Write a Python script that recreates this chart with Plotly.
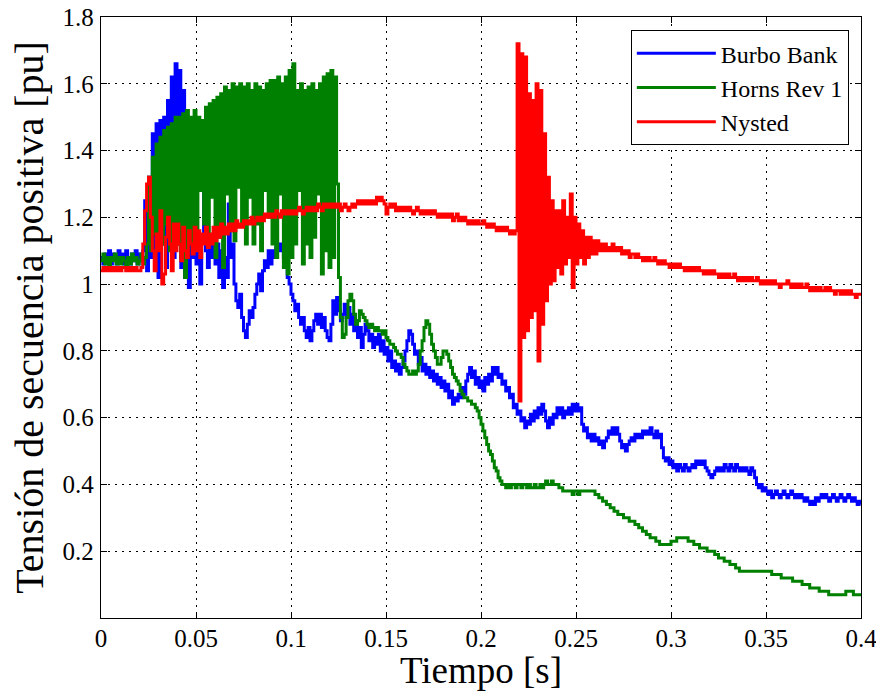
import numpy as np
import plotly.graph_objects as go

# sample times [s], 1 ms resolution
t = np.round(np.arange(0, 0.4005, 0.001), 3)

burbo_bank = [
    1.08, 1.06, 1.09, 1.07, 1.10, 1.06, 1.09, 1.08, 1.06, 1.10,
    1.07, 1.09, 1.06, 1.10, 1.08, 1.06, 1.09, 1.07, 1.10, 1.06,
    1.09, 1.07, 1.10, 1.25, 1.04, 1.32, 1.08, 1.45, 1.10, 1.48,
    1.02, 1.49, 1.12, 1.50, 1.05, 1.55, 1.15, 1.62, 1.08, 1.66,
    1.12, 1.64, 1.05, 1.58, 1.02, 1.35, 0.99, 1.16, 1.08, 1.13,
    1.06, 1.12, 1.00, 1.14, 1.28, 1.10, 1.05, 1.12, 1.08, 1.15,
    1.06, 1.12, 1.02, 1.10, 0.99, 1.08, 1.02, 1.24, 1.08, 1.12,
    1.00, 0.95, 0.93, 0.97, 0.90, 0.86, 0.84, 0.88, 0.92, 0.90,
    0.93, 0.97, 1.00, 1.03, 0.98, 1.04, 1.07, 1.05, 1.10, 1.06,
    1.10, 1.08, 1.11, 1.12, 1.10, 1.12, 1.08, 1.05, 1.02, 1.00,
    0.97, 0.95, 0.92, 0.94, 0.90, 0.88, 0.90, 0.86, 0.84, 0.87,
    0.83, 0.86, 0.89, 0.91, 0.88, 0.91, 0.87, 0.90, 0.86, 0.84,
    0.83, 0.88, 0.95, 0.91, 0.96, 0.92, 0.89, 0.91, 0.94, 0.90,
    0.93, 0.88, 0.91, 0.86, 0.89, 0.84, 0.87, 0.81, 0.85, 0.88,
    0.86, 0.83, 0.85, 0.81, 0.84, 0.82, 0.85, 0.80, 0.83, 0.79,
    0.81, 0.77, 0.80, 0.75, 0.77, 0.74, 0.76, 0.73, 0.75, 0.77,
    0.80, 0.83, 0.86, 0.85, 0.82, 0.79, 0.80, 0.76, 0.78, 0.74,
    0.76, 0.73, 0.75, 0.72, 0.74, 0.71, 0.73, 0.70, 0.72, 0.69,
    0.71, 0.68, 0.70, 0.66, 0.68, 0.64, 0.66, 0.65, 0.67, 0.66,
    0.69, 0.67, 0.71, 0.73, 0.75, 0.72, 0.74, 0.70, 0.72, 0.69,
    0.71, 0.68, 0.72, 0.70, 0.73, 0.71, 0.75, 0.73, 0.75, 0.72,
    0.73, 0.70, 0.71, 0.68, 0.69, 0.66, 0.67, 0.63, 0.64, 0.61,
    0.62, 0.59, 0.60, 0.57, 0.59, 0.58, 0.61, 0.59, 0.62, 0.60,
    0.63, 0.61, 0.64, 0.62, 0.59, 0.57, 0.60, 0.58, 0.61, 0.60,
    0.63, 0.61, 0.63, 0.60, 0.62, 0.61, 0.63, 0.61, 0.64, 0.62,
    0.64, 0.62, 0.63, 0.58, 0.56, 0.57, 0.54, 0.55, 0.53, 0.55,
    0.53, 0.54, 0.52, 0.53, 0.51, 0.53, 0.54, 0.56, 0.55, 0.57,
    0.55, 0.57, 0.55, 0.53, 0.51, 0.52, 0.50, 0.52, 0.53, 0.54,
    0.53, 0.55, 0.54, 0.55, 0.54, 0.56, 0.55, 0.56, 0.55, 0.57,
    0.55, 0.54, 0.56, 0.54, 0.55, 0.51, 0.48, 0.47, 0.48, 0.46,
    0.47, 0.45, 0.46, 0.44, 0.46, 0.45, 0.44, 0.46, 0.45, 0.44,
    0.45, 0.46, 0.45, 0.47, 0.46, 0.47, 0.46, 0.47, 0.45, 0.44,
    0.43, 0.42, 0.43, 0.44, 0.45, 0.44, 0.45, 0.44, 0.46, 0.45,
    0.44, 0.46, 0.45, 0.44, 0.46, 0.45, 0.44, 0.45, 0.44, 0.45,
    0.44, 0.43, 0.45, 0.44, 0.42, 0.40, 0.39, 0.40, 0.38, 0.39,
    0.38, 0.37, 0.38, 0.36, 0.37, 0.38, 0.37, 0.36, 0.37, 0.38,
    0.37, 0.36, 0.37, 0.38, 0.37, 0.36, 0.37, 0.36, 0.37, 0.36,
    0.35, 0.36, 0.35, 0.34, 0.35, 0.34, 0.36, 0.35, 0.36, 0.37,
    0.36, 0.37, 0.36, 0.35, 0.36, 0.37, 0.36, 0.35, 0.36, 0.37,
    0.36, 0.35, 0.36, 0.37, 0.36, 0.35, 0.36, 0.35, 0.34, 0.35,
    0.34,
]

horns_rev_1 = [
    1.07, 1.09, 1.06, 1.08, 1.05, 1.08, 1.07, 1.09, 1.06, 1.08,
    1.06, 1.08, 1.07, 1.05, 1.08, 1.06, 1.09, 1.07, 1.08, 1.06,
    1.07, 1.09, 1.06, 1.08, 1.12, 1.32, 1.10, 1.38, 1.15, 1.42,
    1.15, 1.44, 1.12, 1.46, 1.18, 1.47, 1.10, 1.48, 1.16, 1.50,
    1.12, 1.50, 1.08, 1.51, 1.02, 1.52, 1.14, 1.50, 1.10, 1.52,
    1.15, 1.50, 1.28, 1.49, 1.18, 1.53, 1.12, 1.54, 1.26, 1.55,
    1.08, 1.56, 1.14, 1.57, 1.05, 1.59, 1.27, 1.58, 1.16, 1.60,
    1.13, 1.59, 1.29, 1.60, 1.18, 1.59, 1.12, 1.60, 1.26, 1.58,
    1.12, 1.60, 1.18, 1.59, 1.10, 1.58, 1.28, 1.60, 1.20, 1.61,
    1.12, 1.61, 1.08, 1.62, 1.27, 1.60, 1.05, 1.62, 1.03, 1.64,
    1.08, 1.66, 1.12, 1.58, 1.28, 1.60, 1.06, 1.58, 1.12, 1.59,
    1.08, 1.60, 1.14, 1.58, 1.27, 1.60, 1.03, 1.62, 1.10, 1.63,
    1.05, 1.64, 1.08, 1.62, 1.30, 1.02, 0.90, 0.84, 0.85, 0.90,
    0.95, 0.97, 0.95, 0.91, 0.88, 0.89, 0.92, 0.91, 0.90, 0.89,
    0.88, 0.87, 0.88, 0.87, 0.86, 0.87, 0.86, 0.86, 0.85, 0.86,
    0.84, 0.83, 0.82, 0.82, 0.81, 0.80, 0.79, 0.79, 0.78, 0.76,
    0.75, 0.74, 0.73, 0.73, 0.74, 0.73, 0.74, 0.76, 0.80, 0.83,
    0.87, 0.89, 0.88, 0.85, 0.82, 0.80, 0.78, 0.76, 0.76, 0.78,
    0.80, 0.80, 0.79, 0.77, 0.75, 0.73, 0.72, 0.71, 0.70, 0.68,
    0.67, 0.66, 0.66, 0.65, 0.65, 0.64, 0.64, 0.63, 0.62, 0.60,
    0.58, 0.56, 0.54, 0.52, 0.50, 0.49, 0.47, 0.45, 0.44, 0.42,
    0.41, 0.40, 0.40, 0.39, 0.40, 0.39, 0.40, 0.40, 0.39, 0.40,
    0.40, 0.39, 0.40, 0.40, 0.39, 0.40, 0.39, 0.39, 0.40, 0.39,
    0.39, 0.40, 0.39, 0.40, 0.41, 0.40, 0.40, 0.41, 0.40, 0.40,
    0.40, 0.39, 0.39, 0.38, 0.38, 0.38, 0.38, 0.38, 0.37, 0.38,
    0.38, 0.37, 0.38, 0.38, 0.38, 0.38, 0.38, 0.38, 0.38, 0.38,
    0.37, 0.37, 0.36, 0.36, 0.35, 0.35, 0.34, 0.34, 0.33, 0.33,
    0.32, 0.32, 0.31, 0.31, 0.31, 0.30, 0.30, 0.30, 0.29, 0.29,
    0.29, 0.28, 0.28, 0.27, 0.27, 0.26, 0.26, 0.25, 0.25, 0.24,
    0.24, 0.24, 0.23, 0.23, 0.22, 0.22, 0.22, 0.22, 0.22, 0.22,
    0.23, 0.23, 0.23, 0.24, 0.24, 0.24, 0.24, 0.24, 0.24, 0.23,
    0.23, 0.23, 0.22, 0.22, 0.22, 0.21, 0.21, 0.21, 0.21, 0.20,
    0.20, 0.20, 0.20, 0.19, 0.19, 0.18, 0.18, 0.18, 0.17, 0.17,
    0.17, 0.16, 0.16, 0.16, 0.15, 0.15, 0.14, 0.14, 0.14, 0.14,
    0.14, 0.14, 0.14, 0.14, 0.14, 0.14, 0.14, 0.14, 0.14, 0.14,
    0.14, 0.14, 0.14, 0.13, 0.13, 0.13, 0.13, 0.13, 0.12, 0.12,
    0.12, 0.12, 0.12, 0.12, 0.11, 0.11, 0.11, 0.11, 0.11, 0.10,
    0.10, 0.10, 0.10, 0.09, 0.09, 0.09, 0.09, 0.09, 0.08, 0.08,
    0.08, 0.08, 0.08, 0.07, 0.07, 0.07, 0.07, 0.07, 0.07, 0.07,
    0.07, 0.07, 0.08, 0.08, 0.08, 0.08, 0.07, 0.07, 0.07, 0.07,
    0.07,
]

nysted = [
    1.04, 1.05, 1.04, 1.05, 1.04, 1.05, 1.04, 1.05, 1.04, 1.05,
    1.04, 1.05, 1.05, 1.04, 1.05, 1.04, 1.05, 1.04, 1.05, 1.04,
    1.04, 1.05, 1.12, 1.22, 1.30, 1.32, 1.20, 1.10, 1.04, 1.15,
    1.10, 1.22, 1.00, 1.03, 1.14, 1.20, 1.12, 1.04, 1.18, 1.10,
    1.18, 1.12, 1.07, 1.17, 1.10, 1.08, 1.16, 1.12, 1.09, 1.17,
    1.10, 1.16, 1.08, 1.15, 1.12, 1.17, 1.11, 1.15, 1.12, 1.17,
    1.13, 1.17, 1.14, 1.18, 1.15, 1.17, 1.15, 1.18, 1.16, 1.18,
    1.16, 1.19, 1.17, 1.18, 1.17, 1.19, 1.18, 1.19, 1.18, 1.20,
    1.18, 1.19, 1.20, 1.19, 1.20, 1.19, 1.21, 1.20, 1.21, 1.20,
    1.21, 1.20, 1.22, 1.21, 1.20, 1.22, 1.21, 1.22, 1.21, 1.22,
    1.21, 1.22, 1.21, 1.22, 1.23, 1.22, 1.21, 1.22, 1.23, 1.22,
    1.23, 1.22, 1.23, 1.22, 1.24, 1.23, 1.22, 1.24, 1.23, 1.24,
    1.23, 1.24, 1.23, 1.24, 1.23, 1.24, 1.22, 1.23, 1.24, 1.23,
    1.22, 1.23, 1.24, 1.23, 1.24, 1.25, 1.24, 1.25, 1.24, 1.25,
    1.24, 1.25, 1.24, 1.25, 1.24, 1.26, 1.25, 1.26, 1.25, 1.24,
    1.21, 1.23, 1.24, 1.23, 1.24, 1.22, 1.23, 1.22, 1.23, 1.22,
    1.23, 1.22, 1.23, 1.22, 1.21, 1.22, 1.23, 1.22, 1.21, 1.22,
    1.21, 1.22, 1.21, 1.22, 1.21, 1.22, 1.21, 1.20, 1.21, 1.20,
    1.21, 1.20, 1.21, 1.20, 1.21, 1.19, 1.20, 1.21, 1.19, 1.20,
    1.19, 1.20, 1.19, 1.18, 1.19, 1.18, 1.19, 1.18, 1.19, 1.18,
    1.18, 1.19, 1.18, 1.17, 1.18, 1.17, 1.18, 1.17, 1.16, 1.17,
    1.16, 1.17, 1.16, 1.17, 1.16, 1.15, 1.16, 1.15, 1.16, 1.72,
    0.65, 1.69, 0.84, 1.68, 0.86, 1.57, 0.90, 1.55, 0.92, 1.60,
    0.77, 1.58, 0.88, 1.45, 0.95, 1.32, 1.00, 1.25, 1.01, 1.22,
    1.05, 1.22, 1.03, 1.25, 1.06, 1.20, 1.08, 1.27, 0.99, 1.20,
    1.06, 1.18, 1.08, 1.16, 1.06, 1.14, 1.08, 1.14, 1.09, 1.13,
    1.09, 1.13, 1.10, 1.12, 1.10, 1.12, 1.10, 1.11, 1.10, 1.12,
    1.10, 1.11, 1.10, 1.11, 1.09, 1.10, 1.09, 1.10, 1.08, 1.09,
    1.09, 1.08, 1.09, 1.08, 1.08, 1.07, 1.08, 1.07, 1.08, 1.07,
    1.07, 1.08, 1.07, 1.06, 1.07, 1.06, 1.07, 1.06, 1.06, 1.05,
    1.06, 1.05, 1.06, 1.05, 1.06, 1.05, 1.05, 1.04, 1.05, 1.04,
    1.05, 1.04, 1.05, 1.04, 1.05, 1.04, 1.04, 1.03, 1.04, 1.03,
    1.04, 1.03, 1.04, 1.03, 1.03, 1.02, 1.03, 1.02, 1.03, 1.02,
    1.03, 1.02, 1.02, 1.03, 1.02, 1.01, 1.02, 1.01, 1.02, 1.01,
    1.02, 1.01, 1.02, 1.01, 1.01, 1.02, 1.01, 1.00, 1.01, 1.00,
    1.01, 1.00, 1.01, 1.00, 1.01, 1.00, 1.00, 0.99, 1.00, 1.00,
    1.00, 1.01, 1.00, 0.99, 1.00, 0.99, 1.00, 0.99, 1.00, 0.99,
    0.99, 1.00, 0.99, 0.98, 0.99, 0.98, 0.99, 0.98, 0.99, 0.98,
    0.98, 0.99, 0.98, 0.99, 0.98, 0.98, 0.97, 0.98, 0.98, 0.97,
    0.98, 0.97, 0.98, 0.97, 0.98, 0.97, 0.97, 0.96, 0.97, 0.97,
    0.97,
]

x_ticks = [0, 0.05, 0.1, 0.15, 0.2, 0.25, 0.3, 0.35, 0.4]
x_tick_text = ["0", "0.05", "0.1", "0.15", "0.2", "0.25", "0.3", "0.35", "0.4"]
y_ticks = [0.2, 0.4, 0.6, 0.8, 1.0, 1.2, 1.4, 1.6, 1.8]
y_tick_text = ["0.2", "0.4", "0.6", "0.8", "1", "1.2", "1.4", "1.6", "1.8"]

series = [
    ("Burbo Bank", burbo_bank, "#0000FF"),
    ("Horns Rev 1", horns_rev_1, "#008000"),
    ("Nysted", nysted, "#FF0000"),
]

FONT = "Liberation Serif"

fig = go.Figure()
for name, vals, color in series:
    fig.add_trace(go.Scatter(
        x=t, y=vals, name=name, mode="lines",
        line=dict(color=color, width=3, shape="hv"),
    ))

axis_common = dict(
    showline=True, linecolor="black", linewidth=1.3, mirror="ticks",
    ticks="inside", ticklen=6, tickcolor="black", tickwidth=1,
    showgrid=True, gridcolor="black", gridwidth=1.3, griddash="2px,5px",
    zeroline=False, automargin=False, ticklabeloverflow="allow",
    tickfont=dict(family=FONT, size=25, color="black"),
)

fig.update_xaxes(
    range=[0, 0.4], tickvals=x_ticks, ticktext=x_tick_text,
    title=dict(text="Tiempo [s]", font=dict(family=FONT, size=37, color="black"), standoff=0),
    ticklabelstandoff=-2,
    **axis_common,
)
fig.update_yaxes(
    range=[0, 1.8], tickvals=y_ticks, ticktext=y_tick_text,
    title=dict(text="Tensión de secuencia positiva [pu]", font=dict(family=FONT, size=40, color="black"), standoff=6),
    ticklabelstandoff=1,
    **axis_common,
)

fig.update_layout(
    width=876, height=691,
    margin=dict(l=101, r=15, t=17, b=73),
    paper_bgcolor="white", plot_bgcolor="white",
    font=dict(family=FONT, color="black"),
    showlegend=True,
    legend=dict(
        x=0.984, y=0.978, xanchor="right", yanchor="top",
        bgcolor="white", bordercolor="black", borderwidth=1,
        font=dict(family=FONT, size=24, color="black"),
        itemwidth=79, tracegroupgap=0,
    ),
)

fig.write_html(
    "out.html",
    config={"displayModeBar": False},
    post_script="document.body.style.margin='0px';document.body.style.padding='0px';",
)
